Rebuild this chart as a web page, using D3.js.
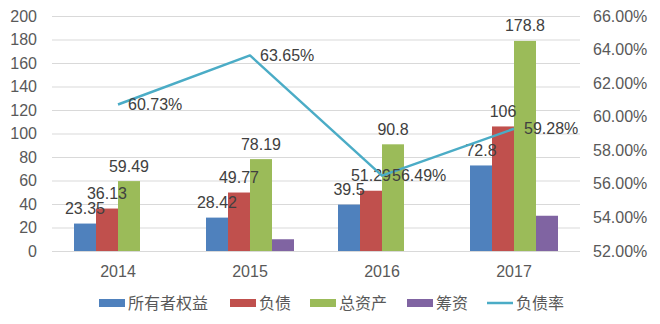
<!DOCTYPE html>
<html><head><meta charset="utf-8">
<script src="https://cdn.jsdelivr.net/npm/d3@7"></script>
<style>
body{margin:0;background:#fff;}
text{font-family:"Liberation Sans",Arial,"Noto Sans CJK SC",sans-serif;}
</style></head>
<body><svg id="c" width="660" height="324"></svg>
<script>
const years = ["2014","2015","2016","2017"];
const seriesNames = ["所有者权益","负债","总资产","筹资"];
const equity = [23.35, 28.42, 39.5, 72.8];
const debt = [36.13, 49.77, 51.29, 106];
const assets = [59.49, 78.19, 90.8, 178.8];
const financing = [0, 10, 0, 30];
const debtRatio = [60.73, 63.65, 56.49, 59.28];
const leftTicks = [0,20,40,60,80,100,120,140,160,180,200];
const rightTicks = [52,54,56,58,60,62,64,66];
const colors = ["#4F81BD","#C0504D","#9BBB59","#8064A2"];
const lineColor = "#4BACC6";
const lineName = "负债率";
const seriesVals = [equity, debt, assets, financing];
const showLabel = [true, true, true, false];

const svg = d3.select("#c");
const L = 52, R = 580, T = 16, B = 251;
const x0 = d3.scaleBand().domain(years).range([L, R]).padding(0);
const x1 = d3.scaleBand().domain(seriesNames).range([0, x0.bandwidth()]).paddingInner(0).paddingOuter(1);
const y = d3.scaleLinear().domain([0,200]).range([B, T]);
const y2 = d3.scaleLinear().domain([52,66]).range([B, T]);
const txt = "#595959";
const fs = "16px";

// gridlines
svg.append("g").attr("transform", `translate(${L},0)`)
  .call(d3.axisLeft(y).tickValues(leftTicks).tickSize(-(R-L)).tickFormat(""))
  .call(g => g.select(".domain").remove())
  .call(g => g.selectAll("line").attr("stroke", "#D9D9D9").attr("stroke-width", 1));

// left axis labels
svg.append("g").attr("transform", `translate(${L-15},0)`)
  .call(d3.axisLeft(y).tickValues(leftTicks).tickSize(0).tickPadding(0))
  .call(g => g.select(".domain").remove())
  .call(g => g.selectAll("text").attr("fill", txt).style("font-size", fs));

// right axis labels
svg.append("g").attr("transform", `translate(${R+13},0)`)
  .call(d3.axisRight(y2).tickValues(rightTicks).tickSize(0).tickPadding(0).tickFormat(d => d.toFixed(2) + "%"))
  .call(g => g.select(".domain").remove())
  .call(g => g.selectAll("text").attr("fill", txt).style("font-size", fs));

// x axis labels
svg.append("g").attr("transform", `translate(0,${B+15})`)
  .call(d3.axisBottom(x0).tickSize(0).tickPadding(0))
  .call(g => g.select(".domain").remove())
  .call(g => g.selectAll("text").attr("fill", txt).style("font-size", fs).attr("dy", "0.71em"));

// bars
const groups = svg.append("g").selectAll("g").data(years).join("g")
  .attr("transform", d => `translate(${x0(d)},0)`);
groups.selectAll("rect").data((d, i) => seriesNames.map((s, j) => ({s, j, v: seriesVals[j][i]})))
  .join("rect")
  .attr("x", d => x1(d.s)).attr("width", x1.bandwidth())
  .attr("y", d => y(d.v)).attr("height", d => B - y(d.v))
  .attr("fill", d => colors[d.j]);

// line
const cx = d => x0(d) + x0.bandwidth()/2;
const lineData = years.map((yr, i) => ({yr, v: debtRatio[i]}));
svg.append("path").datum(lineData)
  .attr("d", d3.line().x(d => cx(d.yr)).y(d => y2(d.v)))
  .attr("fill", "none").attr("stroke", lineColor).attr("stroke-width", 2.5).attr("stroke-linejoin", "round");

// bar labels
groups.selectAll("text.bl").data((d, i) => seriesNames.map((s, j) => ({s, j, v: seriesVals[j][i]})).filter(d => showLabel[d.j]))
  .join("text").attr("class", "bl")
  .attr("x", d => x1(d.s) + x1.bandwidth()/2).attr("y", d => y(d.v) - 9.5)
  .attr("text-anchor", "middle").attr("fill", "#404040").style("font-size", fs)
  .text(d => d.v);

// line labels
svg.append("g").selectAll("text").data(lineData).join("text")
  .attr("x", d => cx(d.yr) + 10).attr("y", d => y2(d.v)).attr("dy", "0.35em")
  .attr("fill", "#404040").style("font-size", fs)
  .text(d => d.v.toFixed(2) + "%");

// legend
const legItems = [
  {name: seriesNames[0], c: colors[0], x: 99, t: "rect"},
  {name: seriesNames[1], c: colors[1], x: 230, t: "rect"},
  {name: seriesNames[2], c: colors[2], x: 310, t: "rect"},
  {name: seriesNames[3], c: colors[3], x: 407, t: "rect"},
  {name: lineName, c: lineColor, x: 487, t: "line"}
];
const ly = 303;
const lg = svg.append("g").selectAll("g").data(legItems).join("g")
  .attr("transform", d => `translate(${d.x},${ly})`);
lg.filter(d => d.t === "rect").append("rect").attr("x", 0).attr("y", -4).attr("width", 26).attr("height", 8).attr("fill", d => d.c);
lg.filter(d => d.t === "line").append("line").attr("x1", 0).attr("x2", 26).attr("y1", 0).attr("y2", 0).attr("stroke", d => d.c).attr("stroke-width", 2.5);
lg.append("text").attr("x", 29).attr("y", 0).attr("dy", "0.35em")
  .attr("fill", txt).style("font-size", fs).style("font-family", "'Noto Sans CJK SC',sans-serif")
  .text(d => d.name);
</script></body></html>
